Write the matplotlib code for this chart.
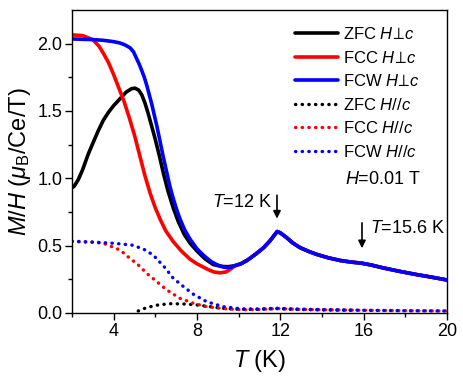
import numpy as np
import matplotlib
matplotlib.use("Agg")
import matplotlib.pyplot as plt

plt.rcParams['font.family'] = ['Liberation Sans', 'DejaVu Sans']
plt.rcParams['mathtext.fontset'] = 'custom'
plt.rcParams['mathtext.rm'] = 'Liberation Sans'
plt.rcParams['mathtext.it'] = 'Liberation Sans:italic'
plt.rcParams['mathtext.bf'] = 'Liberation Sans:bold'

# ---- data ----
# shared high-temperature branch (all three H-perp-c curves coincide above ~9.7 K)
T_hi = [9.8, 10.1, 10.4, 10.8, 11.2, 11.5, 11.7, 11.85, 12.0, 12.3, 12.6, 12.95, 13.4, 13.75, 14.3, 14.87,
        15.4, 15.9, 16.4, 16.93, 17.7, 18.55, 19.3, 20.0]
M_hi = [0.35, 0.365, 0.39, 0.435, 0.485, 0.535, 0.575, 0.605, 0.595, 0.56, 0.52, 0.485, 0.455, 0.435, 0.41, 0.39,
        0.378, 0.37, 0.355, 0.335, 0.31, 0.285, 0.265, 0.245]

T_zfc_perp = [2.0, 2.1, 2.3, 2.5, 2.78, 3.0, 3.25, 3.5, 3.75, 4.0, 4.3, 4.6, 4.85, 5.02, 5.2, 5.35, 5.5, 5.66,
              5.82, 5.98, 6.19, 6.4, 6.6, 6.86, 7.1, 7.4, 7.66, 8.0, 8.4, 8.78, 9.0, 9.26, 9.5] + T_hi
M_zfc_perp = [0.93, 0.94, 0.99, 1.06, 1.18, 1.26, 1.35, 1.43, 1.49, 1.54, 1.59, 1.64, 1.665, 1.67, 1.655, 1.62, 1.56, 1.48,
              1.39, 1.30, 1.17, 1.03, 0.91, 0.78, 0.68, 0.58, 0.52, 0.46, 0.40, 0.36, 0.352, 0.345, 0.344] + M_hi

T_fcc_perp = [2.0, 2.5, 3.0, 3.3, 3.5, 3.75, 4.0, 4.25, 4.5, 4.75, 5.0, 5.25, 5.5, 5.75, 6.0, 6.25, 6.5, 6.86,
              7.25, 7.66, 8.0, 8.5, 8.8, 9.1, 9.4, 9.65] + T_hi
M_fcc_perp = [2.065, 2.06, 2.03, 1.98, 1.93, 1.86, 1.77, 1.67, 1.57, 1.45, 1.32, 1.17, 1.02, 0.89, 0.78, 0.69, 0.61, 0.53,
              0.46, 0.40, 0.365, 0.325, 0.305, 0.298, 0.305, 0.33] + M_hi

T_fcw_perp = [2.0, 3.0, 3.5, 4.0, 4.3, 4.55, 4.78, 4.95, 5.1, 5.22, 5.35, 5.47, 5.59, 5.71, 5.83, 5.95, 6.07, 6.22,
              6.38, 6.54, 6.7, 6.86, 7.02, 7.18, 7.4, 7.66, 7.98, 8.2, 8.45, 8.7, 8.94, 9.15, 9.35, 9.6] + T_hi
M_fcw_perp = [2.035, 2.03, 2.025, 2.015, 2.005, 1.99, 1.97, 1.94, 1.89, 1.85, 1.80, 1.75, 1.69, 1.62, 1.55, 1.47, 1.39, 1.28,
              1.16, 1.05, 0.94, 0.85, 0.77, 0.70, 0.62, 0.55, 0.48, 0.445, 0.41, 0.38, 0.36, 0.346, 0.338, 0.34] + M_hi

T_zfc_par = [5.18, 5.58, 6.14, 6.7, 7.35, 7.98, 8.62, 9.2, 10.0, 11.0, 11.85, 12.6, 13.5, 14.5, 15.5]
M_zfc_par = [0.015, 0.04, 0.06, 0.069, 0.067, 0.06, 0.047, 0.035, 0.027, 0.027, 0.032, 0.027, 0.024, 0.022, 0.02]

T_fcc_par = [2.0, 3.0, 3.5, 4.3, 4.78, 5.18, 5.58, 6.07, 6.55, 7.18, 7.83, 8.46, 9.43, 10.3, 11.0, 11.85, 12.6, 14.0, 16.0, 18.0, 20.0]
M_fcc_par = [0.53, 0.525, 0.518, 0.468, 0.406, 0.357, 0.295, 0.233, 0.171, 0.109, 0.072, 0.047, 0.03, 0.024, 0.026, 0.033, 0.028, 0.024, 0.02, 0.017, 0.015]

T_fcw_par = [2.0, 3.0, 3.98, 4.86, 5.42, 5.9, 6.46, 6.86, 7.35, 7.83, 8.46, 9.26, 10.2, 11.0, 11.85, 12.6, 14.0, 16.0, 18.0, 20.0]
M_fcw_par = [0.533, 0.527, 0.518, 0.505, 0.476, 0.43, 0.337, 0.258, 0.196, 0.139, 0.084, 0.047, 0.03, 0.03, 0.035, 0.03, 0.025, 0.02, 0.017, 0.015]

labels = [r'ZFC $H\!\perp\!c$', r'FCC $H\!\perp\!c$', r'FCW $H\!\perp\!c$',
          r'ZFC $H//c$', r'FCC $H//c$', r'FCW $H//c$']
colors = ['black', '#ff0000', '#0000ff']

fig = plt.figure(figsize=(4.63, 3.83), dpi=100)
ax = fig.add_axes([0.1555, 0.1828, 0.8099, 0.7911])

solid = [(T_zfc_perp, M_zfc_perp), (T_fcc_perp, M_fcc_perp), (T_fcw_perp, M_fcw_perp)]
dotted = [(T_zfc_par, M_zfc_par), (T_fcc_par, M_fcc_par), (T_fcw_par, M_fcw_par)]

for (t, m), c, lab in zip(solid, colors, labels[:3]):
    ax.plot(t, m, color=c, lw=2.6, label=lab, solid_capstyle='round', solid_joinstyle='round')
for (t, m), c, lab in zip(dotted, colors, labels[3:]):
    ax.plot(t, m, color=c, lw=2.4, ls=(0, (0.1, 1.9)), dash_capstyle='round', label=lab)

ax.set_xlim(2, 20)
ax.set_ylim(0, 2.25)
ax.set_xticks([4, 8, 12, 16, 20])
ax.set_xticks([2, 6, 10, 14, 18], minor=True)
ax.set_yticks([0.0, 0.5, 1.0, 1.5, 2.0])
ax.set_yticks([0.25, 0.75, 1.25, 1.75], minor=True)
ax.set_yticklabels(['0.0', '0.5', '1.0', '1.5', '2.0'])
ax.tick_params(which='major', direction='out', length=5, width=1, labelsize=13, pad=2)
ax.tick_params(which='minor', direction='out', length=3, width=1)
for s in ax.spines.values():
    s.set_linewidth(1)

ax.set_xlabel(r'$T$ (K)', fontsize=17, labelpad=6)
ax.set_ylabel(r'$M/H$ ($\mu_\mathrm{B}$/Ce/T)', fontsize=17, labelpad=3)

leg = ax.legend(loc='upper left', frameon=False, fontsize=12, handlelength=2.6,
                handletextpad=0.3, labelspacing=0.45, borderaxespad=0, borderpad=0,
                bbox_to_anchor=(0.595, 0.947))

ax.text(15.1, 0.99, r'$H$=0.01 T', fontsize=13, va='center', ha='left')
ax.annotate('', xy=(11.84, 0.68), xytext=(11.84, 0.895),
            arrowprops=dict(arrowstyle='-|>', color='black', lw=1.2, mutation_scale=11))
ax.text(11.6, 0.82, r'$T$=12 K', fontsize=13, va='center', ha='right')
ax.annotate('', xy=(15.92, 0.46), xytext=(15.92, 0.69),
            arrowprops=dict(arrowstyle='-|>', color='black', lw=1.2, mutation_scale=11))
ax.text(16.3, 0.63, r'$T$=15.6 K', fontsize=13, va='center', ha='left')

fig.savefig('out.png', dpi=100)
